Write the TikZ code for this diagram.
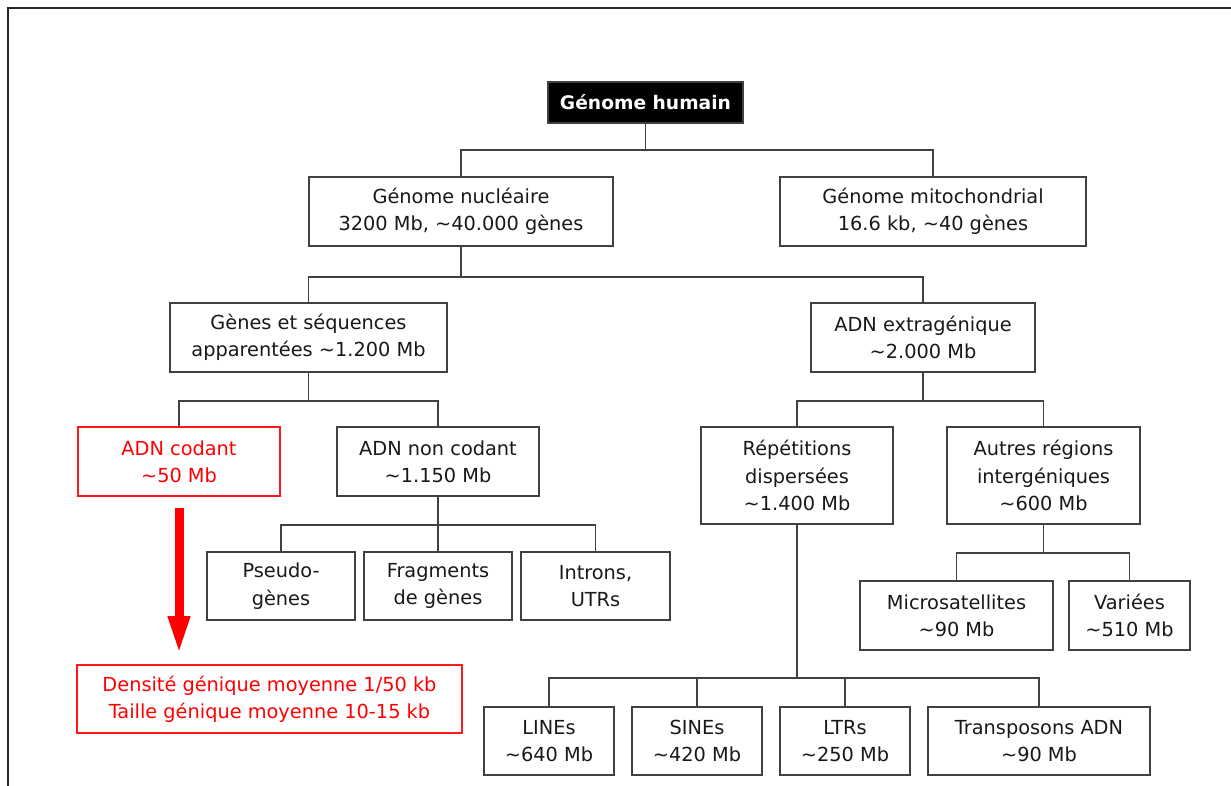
\documentclass[tikz,border=0pt]{standalone}
\usepackage{fontspec}
\setmainfont{DejaVu Sans}
\usepackage{tikz}
\usetikzlibrary{arrows.meta}
\usepackage{xcolor}
\newcommand{\tld}{\textasciitilde}
\tikzset{
	box/.style={rectangle,draw=black!75,line width=1.2pt,fill=white,inner sep=0pt,align=center,text=black!90,font=\fontsize{14.5}{20.5}\selectfont},
	hot/.style={draw=red!90,text=red},
	link/.style={draw=black!75,line width=1.25pt},
}
\begin{document}
\begin{tikzpicture}[x=0.75pt,y=-0.75pt]
				\clip (0,0) rectangle (1231,785);
				\draw [line width=1.6pt,black!85] (8,800) -- (8,8) -- (1240,8);
				\node (hum) [box,fill=black,text=white,font=\fontsize{14}{18}\selectfont\bfseries,minimum width=146.25pt,minimum height=30.75pt] at (645.5,102.5) {Génome humain};
				\node (nuc) [box,minimum width=228pt,minimum height=51.75pt] at (461,211.5) {Génome nucléaire\\3200 Mb, \tld40.000 gènes};
				\node (mit) [box,minimum width=229.5pt,minimum height=51.75pt] at (933,211.5) {Génome mitochondrial\\16.6 kb, \tld40 gènes};
				\node (gen) [box,minimum width=207.75pt,minimum height=51.75pt] at (308.5,337.5) {Gènes et séquences\\apparentées \tld1.200 Mb};
				\node (ext) [box,minimum width=168pt,minimum height=51.75pt] at (923,337.5) {ADN extragénique\\\tld2.000 Mb};
				\node (cod) [box,hot,minimum width=151.5pt,minimum height=51.75pt] at (179,461.5) {ADN codant\\\tld50 Mb};
				\node (ncod) [box,minimum width=151.5pt,minimum height=51.75pt] at (438,461.5) {ADN non codant\\\tld1.150 Mb};
				\node (rep) [box,minimum width=144pt,minimum height=72.75pt] at (797,475.5) {Répétitions\\dispersées\\\tld1.400 Mb};
				\node (aut) [box,minimum width=144.75pt,minimum height=72.75pt] at (1043.5,475.5) {Autres régions\\intergéniques\\\tld600 Mb};
				\node (pse) [box,minimum width=111pt,minimum height=51pt] at (281,586) {Pseudo-\\gènes};
				\node (fra) [box,minimum width=111pt,minimum height=51pt] at (438,586) {Fragments\\de gènes};
				\node (int) [box,minimum width=111.75pt,minimum height=51pt] at (595.5,586) {Introns,\\UTRs};
				\node (mic) [box,minimum width=144.75pt,minimum height=51.75pt] at (956.5,615.5) {Microsatellites\\\tld90 Mb};
				\node (var) [box,minimum width=90.75pt,minimum height=51.75pt] at (1129.5,615.5) {Variées\\\tld510 Mb};
				\node (den) [box,hot,minimum width=288.75pt,minimum height=51pt] at (269.5,699) {Densité génique moyenne 1/50 kb\\Taille génique moyenne 10-15 kb};
				\node (lin) [box,minimum width=97.5pt,minimum height=51pt] at (549,741) {LINEs\\\tld640 Mb};
				\node (sin) [box,minimum width=97.5pt,minimum height=51pt] at (697,741) {SINEs\\\tld420 Mb};
				\node (ltr) [box,minimum width=97.5pt,minimum height=51pt] at (845,741) {LTRs\\\tld250 Mb};
				\node (tra) [box,minimum width=166.5pt,minimum height=51pt] at (1039,741) {Transposons ADN\\\tld90 Mb};
				% tree lines
				\draw [link](hum.south) -- ++(0,26) -| (nuc.north);
				\draw [link](hum.south) -- ++(0,26) -| (mit.north);
				\draw [link](nuc.south) -- ++(0,30) -| (gen.north);
				\draw [link](nuc.south) -- ++(0,30) -| (ext.north);
				\draw [link](gen.south) -- ++(0,28) -| (cod.north);
				\draw [link](gen.south) -- ++(0,28) -| (ncod.north);
				\draw [link](ext.south) -- ++(0,28) -| (rep.north);
				\draw [link](ext.south) -- ++(0,28) -| (aut.north);
				\draw [link](ncod.south) -- ++(0,28) -| (pse.north);
				\draw [link](ncod.south) -- ++(0,28) -| (fra.north);
				\draw [link](ncod.south) -- ++(0,28) -| (int.north);
				\draw [link](aut.south) -- ++(0,28) -| (mic.north);
				\draw [link](aut.south) -- ++(0,28) -| (var.north);
				\draw [link](rep.south) -- ++(0,153) -| (lin.north);
				\draw [link](rep.south) -- ++(0,153) -| (sin.north);
				\draw [link](rep.south) -- ++(0,153) -| (ltr.north);
				\draw [link](rep.south) -- ++(0,153) -| (tra.north);
				% red arrow
				\draw [-{Triangle[length=28.5pt,width=15pt]},red,line width=6.75pt,shorten <=8.25pt,shorten >=7.5pt](cod.south) -- (cod.south |- den.north);
			\end{tikzpicture}
\end{document}
